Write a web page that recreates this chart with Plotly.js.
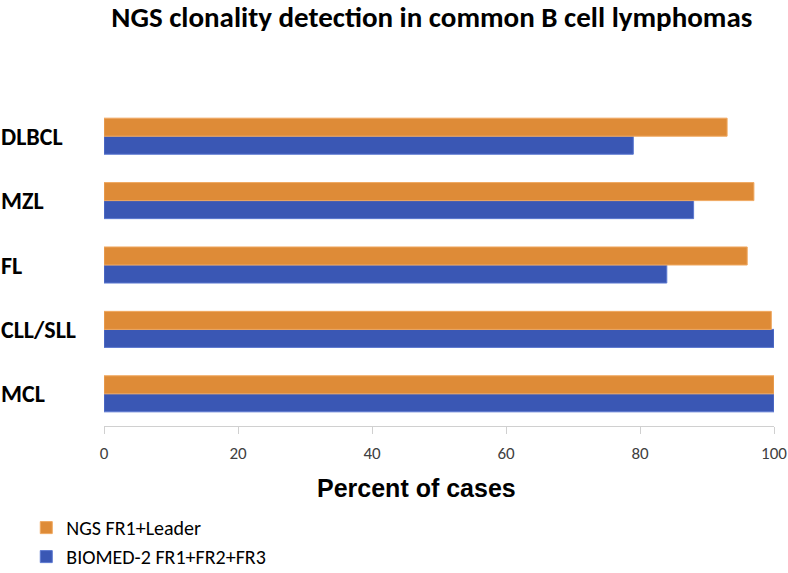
<!DOCTYPE html>
<html>
<head>
<meta charset="utf-8">
<script src="https://cdn.plot.ly/plotly-3.0.1.min.js"></script>
<style>html,body{margin:0;padding:0;background:#fff;}#chart{width:788px;height:573px;}</style>
</head>
<body>
<div id="chart"></div>
<script>
const categories = ["MCL", "CLL/SLL", "FL", "MZL", "DLBCL"];
const ngsValues = [100, 99.6, 96, 97, 93];
const biomedValues = [100, 100, 84, 88, 79];
const seriesNames = ["NGS FR1+Leader", "BIOMED-2 FR1+FR2+FR3"];
const xTicks = [0, 20, 40, 60, 80, 100];
const chartTitle = "NGS clonality detection in common B cell lymphomas";
const xTitle = "Percent of cases";

const catFont = "Carlito, 'Open Sans', 'Liberation Sans', sans-serif";

const traces = [
  {
    type: "bar", orientation: "h", name: seriesNames[1],
    y: categories, x: biomedValues,
    marker: {color: "#3A57B4", line: {color: "#5B78D0", width: 1}}
  },
  {
    type: "bar", orientation: "h", name: seriesNames[0],
    y: categories, x: ngsValues,
    marker: {color: "#DE8B37", line: {color: "#F0A860", width: 1}}
  }
];

const annotations = categories.map(c => ({
  xref: "paper", yref: "y", x: -0.157, y: c, xanchor: "left", yanchor: "middle",
  text: "<b>" + c + "</b>", showarrow: false,
  font: {family: catFont, size: 24, color: "#000"}
}));
annotations.push({
  xref: "paper", yref: "paper", x: 0.467, y: -0.1925, xanchor: "center", yanchor: "middle",
  text: "<b>" + xTitle + "</b>", showarrow: false,
  font: {family: "'Liberation Sans', Arial, sans-serif", size: 25, color: "#000"}
});

const layout = {
  width: 788, height: 573,
  margin: {l: 104, r: 14, t: 104, b: 147, autoexpand: false},
  paper_bgcolor: "#fff", plot_bgcolor: "#fff",
  title: {
    text: "<b>" + chartTitle + "</b>",
    x: 0.548, xanchor: "center", y: 0.971, yanchor: "middle",
    font: {family: catFont, size: 29, color: "#000"}
  },
  barmode: "group", bargap: 0.44, bargroupgap: 0,
  xaxis: {
    range: [0, 100], tickvals: xTicks, ticktext: xTicks.map(String),
    showgrid: false, zeroline: false,
    showline: true, linecolor: "#D0D0D0", linewidth: 1,
    ticks: "outside", ticklen: 7, tickcolor: "#D0D0D0",
    ticklabelstandoff: 5,
    tickfont: {family: catFont, size: 17, color: "#404040"}
  },
  yaxis: {
    showticklabels: false, showgrid: false, zeroline: false, showline: false,
    ticks: ""
  },
  showlegend: true,
  legend: {
    x: -0.116, y: -0.255, xanchor: "left", yanchor: "top",
    traceorder: "reversed", orientation: "v",
    font: {family: catFont, size: 20, color: "#000"},
    itemwidth: 30, tracegroupgap: 0, bgcolor: "rgba(0,0,0,0)"
  },
  annotations: annotations
};

Plotly.newPlot("chart", traces, layout, {displayModeBar: false, staticPlot: true});
</script>
</body>
</html>
